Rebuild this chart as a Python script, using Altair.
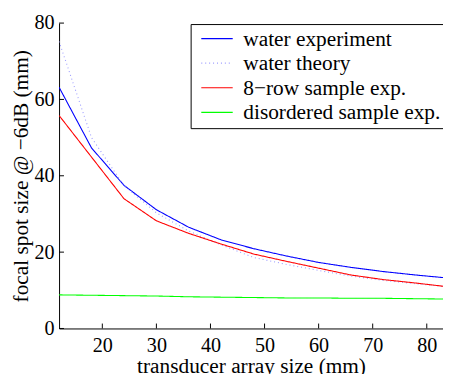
import altair as alt
import pandas as pd

array_size = [12, 18, 24, 30, 36, 42, 48, 54, 60, 66, 72, 78, 84]
water_exp = [63.2, 47.3, 37.5, 31.1, 26.5, 23.2, 20.9, 19.0, 17.3, 16.0, 14.9, 14.0, 13.2]
water_theory = [75.2, 50.0, 37.4, 30.3, 25.5, 21.9, 18.6, 16.8, 15.2, 13.7, 12.6, 11.7, 10.9]
row8_exp = [55.8, 44.9, 34.0, 28.2, 24.9, 22.1, 19.5, 17.6, 15.8, 14.0, 12.8, 11.9, 10.9]
disordered_exp = [8.8, 8.7, 8.6, 8.5, 8.3, 8.2, 8.1, 8.0, 8.0, 7.9, 7.9, 7.8, 7.7]

series = ["water experiment", "water theory", "8\u2212row sample exp.", "disordered sample exp."]
colors = ["#0000ff", "#9b9bff", "#ff0000", "#00ff00"]
dashes = [[1, 0], [1, 3], [1, 0], [1, 0]]

x_ticks = [20, 30, 40, 50, 60, 70, 80]
y_ticks = [0, 20, 40, 60, 80]

rows = []
for k, (name, vals) in enumerate(zip(series, [water_exp, water_theory, row8_exp, disordered_exp])):
    for x, v in zip(array_size, vals):
        rows.append({"series": name, "x": x, "y": v, "order": k})
df = pd.DataFrame(rows)

FONT = "Liberation Serif"
W, H = 391, 311

xscale = alt.Scale(domain=[12, 83], nice=False, zero=False)
yscale = alt.Scale(domain=[0, 80], nice=False)

lines = alt.Chart(df).mark_line(strokeWidth=1.1, clip=True).encode(
    x=alt.X("x:Q", scale=xscale,
            axis=alt.Axis(values=x_ticks, title="transducer array size (mm)", grid=False,
                          tickSize=0, labelPadding=7, titlePadding=0)),
    y=alt.Y("y:Q", scale=yscale,
            axis=alt.Axis(values=y_ticks, title="focal spot size @ \u22126dB (mm)", grid=False,
                          tickSize=0, labelPadding=5, titlePadding=2)),
    color=alt.Color("series:N", scale=alt.Scale(domain=series, range=colors),
                    legend=alt.Legend(title=None)),
    strokeDash=alt.StrokeDash("series:N", scale=alt.Scale(domain=series, range=dashes),
                              legend=alt.Legend(title=None)),
    order="order:Q",
)

xt = alt.Chart(pd.DataFrame({"t": x_ticks})).mark_rule(color="black", strokeWidth=1).encode(
    x=alt.X("t:Q", scale=xscale), y=alt.value(H), y2=alt.value(H - 5))
yt = alt.Chart(pd.DataFrame({"t": y_ticks})).mark_rule(color="black", strokeWidth=1).encode(
    y=alt.Y("t:Q", scale=yscale), x=alt.value(0), x2=alt.value(5))

chart = alt.layer(lines, xt, yt).properties(
    width=W, height=H,
    autosize=alt.AutoSizeParams(type="none"),
    padding={"left": 52, "top": 12, "right": 0, "bottom": 43},
).configure_view(stroke=None).configure_axis(
    domainColor="black", domainWidth=1,
    labelFont=FONT, labelFontSize=20.5, labelColor="black",
    titleFont=FONT, titleFontSize=21.7, titleFontWeight="normal", titleColor="black",
).configure_legend(
    orient="none", legendX=134, legendY=1,
    strokeColor="black", fillColor="white", cornerRadius=0,
    padding=4, symbolType="M-2,0H2", symbolSize=256, symbolStrokeWidth=1.2,
    symbolOffset=12, labelOffset=16,
    labelFont=FONT, labelFontSize=21.7, labelColor="black",
    rowPadding=2, labelLimit=400,
)

chart.save("out.html", embed_options={"renderer": "svg", "actions": False})
